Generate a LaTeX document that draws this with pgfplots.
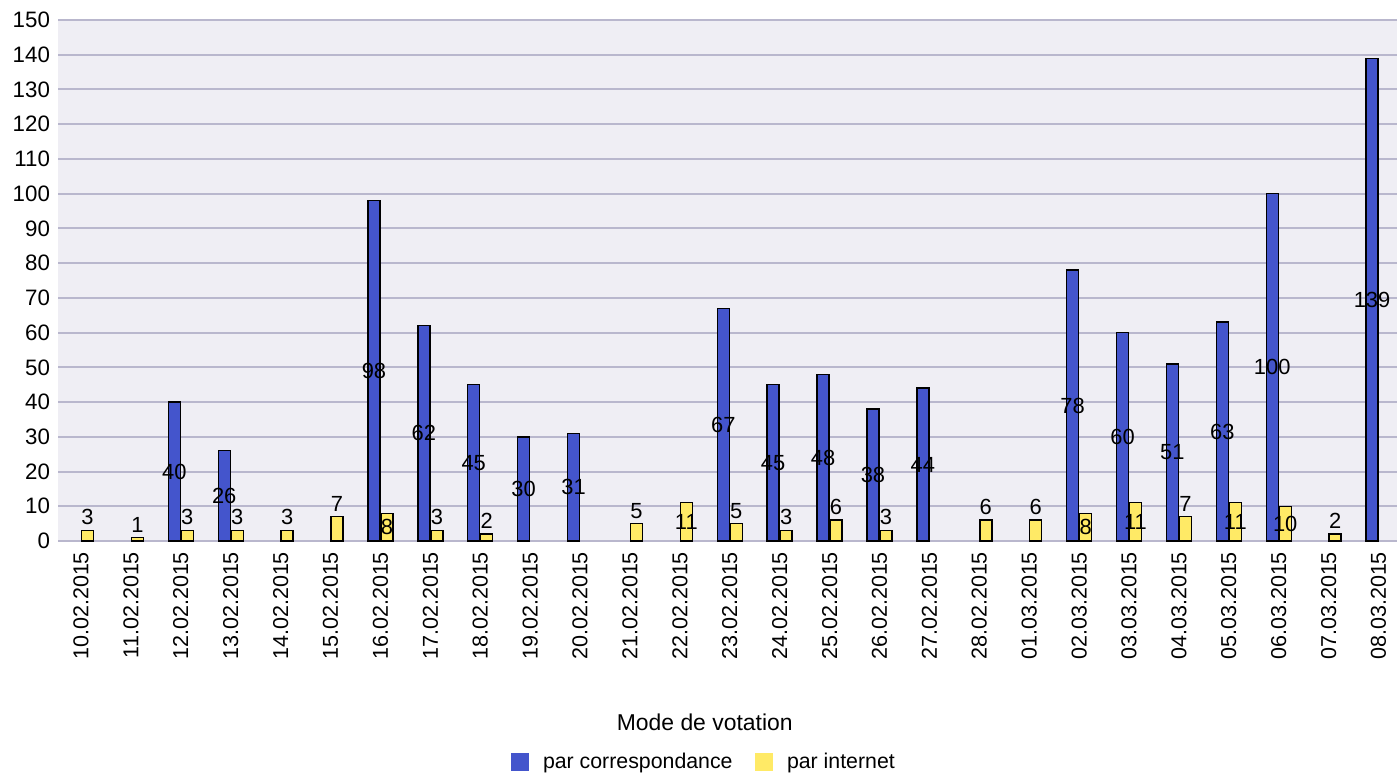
\documentclass[border=0pt]{standalone}
\usepackage{fontspec}
\setmainfont{Liberation Sans}
\usepackage{pgfplots}
\usepackage{pgfplotstable}
\pgfplotsset{compat=1.18}

\definecolor{corrblue}{RGB}{68,85,204}
\definecolor{inetyellow}{RGB}{255,234,102}
\definecolor{plotbg}{RGB}{239,238,244}
\definecolor{gridcol}{RGB}{185,183,205}

% votes per day: par correspondance / par internet
\pgfplotstableread{
i d corr inet
0 10.02.2015 0 3
1 11.02.2015 0 1
2 12.02.2015 40 3
3 13.02.2015 26 3
4 14.02.2015 0 3
5 15.02.2015 0 7
6 16.02.2015 98 8
7 17.02.2015 62 3
8 18.02.2015 45 2
9 19.02.2015 30 0
10 20.02.2015 31 0
11 21.02.2015 0 5
12 22.02.2015 0 11
13 23.02.2015 67 5
14 24.02.2015 45 3
15 25.02.2015 48 6
16 26.02.2015 38 3
17 27.02.2015 44 0
18 28.02.2015 0 6
19 01.03.2015 0 6
20 02.03.2015 78 8
21 03.03.2015 60 11
22 04.03.2015 51 7
23 05.03.2015 63 11
24 06.03.2015 100 10
25 07.03.2015 0 2
26 08.03.2015 139 0
}\votes

\begin{document}
\begin{tikzpicture}
\useasboundingbox (-29bp,-116bp) rectangle (669.5bp,270.5bp);
\begin{axis}[
    at={(0,0)}, anchor=south west,
    scale only axis,
    width=669.5bp, height=260.5bp,
    xmin=-0.461, xmax=26.37,
    ymin=0, ymax=150,
    ytick={0,10,...,150},
    xtick={0,...,26},
    xticklabels from table={\votes}{d},
    x tick label style={rotate=90, anchor=east, xshift=-2bp, font=\fontsize{10.8}{13}\selectfont},
    y tick label style={font=\fontsize{11.2}{13}\selectfont, xshift=-0.5bp},
    /pgf/number format/assume math mode=true,
    axis line style={draw=none},
    tick style={draw=none},
    axis background/.style={fill=plotbg},
    ymajorgrids,
    major grid style={gridcol, line width=1bp},
    xlabel={Mode de votation},
    xlabel style={at={(axis description cs:0.483,-0.3474)}, anchor=center, font=\fontsize{11.5}{13}\selectfont},
    legend columns=2,
    legend style={at={(axis description cs:0.483,-0.4242)}, anchor=center, draw=none, fill=none,
        font=\fontsize{10.7}{12}\selectfont,
        /tikz/every odd column/.append style={column sep=5bp},
        /tikz/every even column/.append style={column sep=9bp}},
    clip=false,
]
\addplot[ybar, bar width=6bp, bar shift=-3.25bp, fill=corrblue, draw=black, line width=0.7bp,
    y filter/.expression={y==0 ? nan : y},
    legend image code/.code={\fill[corrblue] (0bp,-4.25bp) rectangle (8.5bp,4.25bp);}]
    table[x=i, y=corr] {\votes};
\addlegendentry{par correspondance}
\addplot[ybar, bar width=6bp, bar shift=3.25bp, fill=inetyellow, draw=black, line width=0.7bp,
    y filter/.expression={y==0 ? nan : y},
    legend image code/.code={\fill[inetyellow] (0bp,-4.25bp) rectangle (8.5bp,4.25bp);}]
    table[x=i, y=inet] {\votes};
\addlegendentry{par internet}

% value labels: centred in the bar when it is tall enough, above it otherwise
\addplot[draw=none, mark=none, forget plot, nodes near coords, point meta=explicit,
    y filter/.expression={y<4 ? nan : y},
    nodes near coords style={anchor=center, xshift=-3.25bp, inner sep=0pt, font=\fontsize{11}{12}\selectfont}]
    table[x=i, y expr=\thisrow{corr}/2, meta=corr] {\votes};
\addplot[draw=none, mark=none, forget plot, nodes near coords, point meta=explicit,
    y filter/.expression={y<4 ? nan : y},
    nodes near coords style={anchor=center, xshift=3.25bp, inner sep=0pt, font=\fontsize{11}{12}\selectfont}]
    table[x=i, y expr=\thisrow{inet}/2, meta=inet] {\votes};
\addplot[draw=none, mark=none, forget plot, nodes near coords, point meta=explicit,
    y filter/.expression={(y<0.5 || y>7.5) ? nan : y},
    nodes near coords style={anchor=south, xshift=-3.25bp, yshift=2.5bp, inner sep=0pt, font=\fontsize{11}{12}\selectfont}]
    table[x=i, y=corr, meta=corr] {\votes};
\addplot[draw=none, mark=none, forget plot, nodes near coords, point meta=explicit,
    y filter/.expression={(y<0.5 || y>7.5) ? nan : y},
    nodes near coords style={anchor=south, xshift=3.25bp, yshift=2.5bp, inner sep=0pt, font=\fontsize{11}{12}\selectfont}]
    table[x=i, y=inet, meta=inet] {\votes};
\end{axis}
\end{tikzpicture}
\end{document}
